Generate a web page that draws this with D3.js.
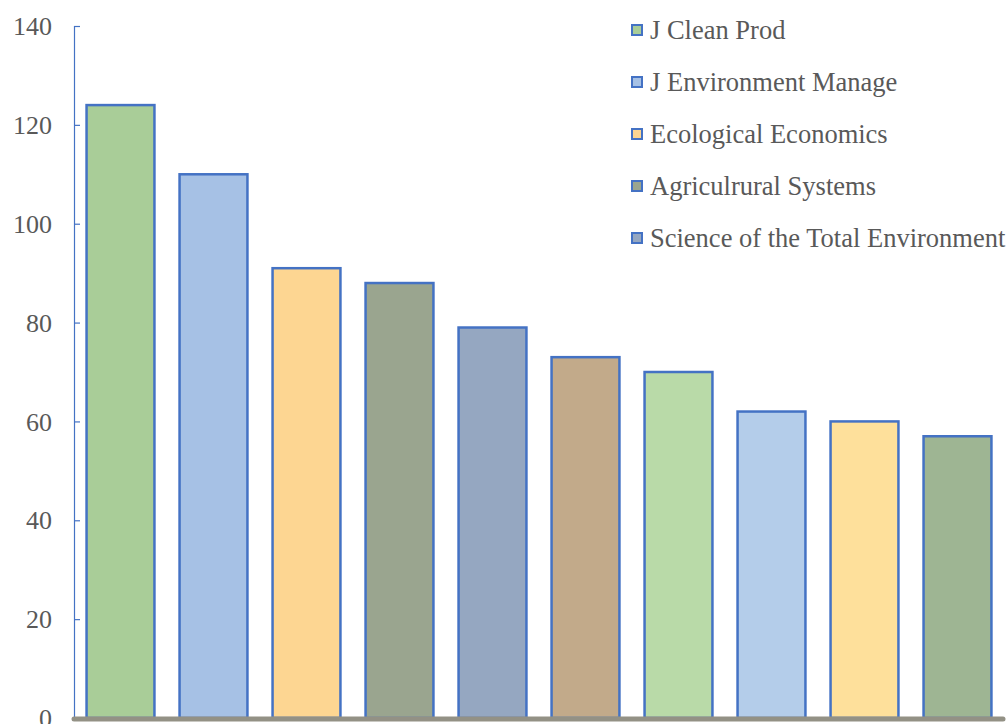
<!DOCTYPE html>
<html>
<head>
<meta charset="utf-8">
<script src="https://cdn.jsdelivr.net/npm/d3@7"></script>
<style>
  body { margin: 0; background: #fff; }
  text { font-family: "Liberation Serif", "Times New Roman", serif; }
</style>
</head>
<body>
<div id="chart"></div>
<script>
// Journal bar chart (D3 v7)

const width = 1008;
const height = 724;
const margin = { top: 26, right: 4, bottom: 6, left: 74 };

// data
const ranks = [1, 2, 3, 4, 5, 6, 7, 8, 9, 10];
const counts = [124, 110, 91, 88, 79, 73, 70, 62, 60, 57];
const barColors = ['#a9cd98', '#a6c1e5', '#fdd692', '#9aa58f', '#95a7c1',
  '#c2aa8a', '#b9daa8', '#b4cdea', '#fee09b', '#9eb593'];
const legendNames = ['J Clean Prod', 'J Environment Manage', 'Ecological Economics',
  'Agriculrural Systems', 'Science of the Total Environment'];
const yTicks = [0, 20, 40, 60, 80, 100, 120, 140];

const svg = d3.select('#chart')
  .append('svg')
  .attr('width', width)
  .attr('height', height);

const x = d3.scaleBand()
  .domain(ranks)
  .range([margin.left, width - margin.right])
  .paddingInner(0.27)
  .paddingOuter(0.135);

const y = d3.scaleLinear()
  .domain([0, 140])
  .range([height - margin.bottom, margin.top]);

// y axis
const yAxis = svg.append('g')
  .attr('transform', `translate(${margin.left},0)`)
  .call(d3.axisRight(y).tickValues(yTicks).tickSize(6).tickFormat(''));
yAxis.select('.domain').attr('stroke', '#4472c4').attr('stroke-width', 1.2);
yAxis.selectAll('.tick line').attr('stroke', '#4472c4').attr('stroke-width', 1.2);

// tick labels
svg.append('g').selectAll('text')
  .data(yTicks)
  .enter()
  .append('text')
  .attr('x', 52)
  .attr('y', d => y(d))
  .attr('dy', '0.35em')
  .attr('text-anchor', 'end')
  .attr('fill', '#595959')
  .style('font-size', '26px')
  .text(d => d);

// bars
svg.append('g').selectAll('rect')
  .data(counts)
  .enter()
  .append('rect')
  .attr('x', (d, i) => x(ranks[i]))
  .attr('y', d => y(d))
  .attr('width', x.bandwidth())
  .attr('height', d => y(0) - y(d))
  .attr('fill', (d, i) => barColors[i])
  .attr('stroke', '#4472c4')
  .attr('stroke-width', 2.5);

// baseline
svg.append('line')
  .attr('x1', margin.left)
  .attr('x2', width - 5)
  .attr('y1', y(0) + 1)
  .attr('y2', y(0) + 1)
  .attr('stroke', '#939185')
  .attr('stroke-width', 5)
  .attr('stroke-linecap', 'round');

// legend
const legend = svg.append('g')
  .attr('transform', 'translate(632, 30)');

const item = legend.selectAll('g')
  .data(legendNames)
  .enter()
  .append('g')
  .attr('transform', (d, i) => `translate(0, ${i * 52})`);

item.append('rect')
  .attr('x', 0)
  .attr('y', -5)
  .attr('width', 10)
  .attr('height', 10)
  .attr('fill', (d, i) => barColors[i])
  .attr('stroke', '#4472c4')
  .attr('stroke-width', 2);

item.append('text')
  .attr('x', 18)
  .attr('y', 0)
  .attr('dy', '0.35em')
  .attr('fill', '#595959')
  .style('font-size', '26.5px')
  .text(d => d);
</script>
</body>
</html>
